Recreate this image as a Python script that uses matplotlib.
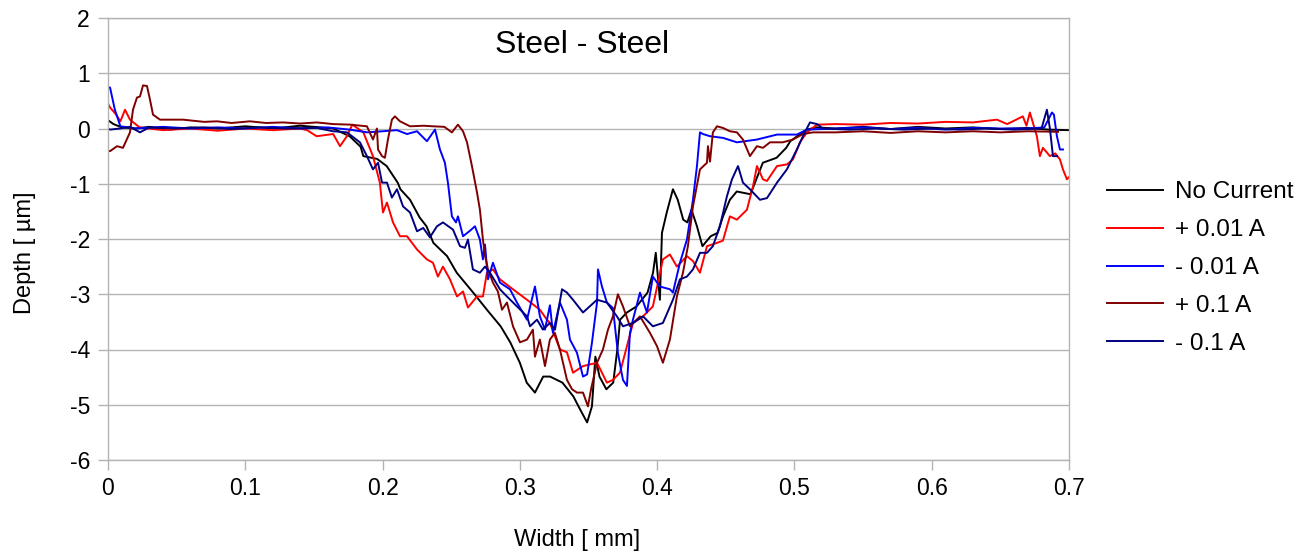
import matplotlib
matplotlib.use("Agg")
import matplotlib.pyplot as plt

plt.rcParams['font.family'] = ['Liberation Sans', 'DejaVu Sans']
plt.rcParams['axes.unicode_minus'] = False

# ---- data: (width [mm], depth [um]) ----
no_current = [
    (0.000, 0.15), (0.004, 0.08), (0.010, 0.02), (0.020, 0.00), (0.030, 0.03), (0.045, -0.02),
    (0.060, 0.02), (0.080, 0.00), (0.100, 0.04), (0.120, 0.00), (0.140, 0.05), (0.155, 0.02),
    (0.164, 0.00), (0.176, -0.14), (0.184, -0.33), (0.186, -0.50), (0.196, -0.55), (0.203, -0.68),
    (0.211, -0.98), (0.213, -1.10), (0.220, -1.29), (0.227, -1.61), (0.232, -1.77), (0.237, -2.07),
    (0.247, -2.31), (0.254, -2.61), (0.266, -2.97), (0.276, -3.28), (0.286, -3.58), (0.293, -3.87),
    (0.300, -4.24), (0.305, -4.60), (0.311, -4.78), (0.317, -4.49), (0.322, -4.49), (0.331, -4.60),
    (0.339, -4.85), (0.344, -5.09), (0.349, -5.32), (0.3525, -5.03), (0.355, -4.13), (0.358, -4.49),
    (0.363, -4.72), (0.368, -4.60), (0.371, -4.00), (0.373, -3.46), (0.378, -3.33), (0.385, -3.22),
    (0.393, -2.97), (0.397, -2.61), (0.399, -2.25), (0.402, -3.10), (0.4035, -1.89), (0.407, -1.52),
    (0.4115, -1.10), (0.415, -1.29), (0.419, -1.65), (0.422, -1.70), (0.425, -1.47), (0.429, -1.77),
    (0.433, -2.13), (0.439, -1.95), (0.444, -1.89), (0.448, -1.59), (0.453, -1.29), (0.458, -1.14),
    (0.468, -1.19), (0.473, -0.87), (0.477, -0.62), (0.487, -0.53), (0.494, -0.35), (0.497, -0.23),
    (0.502, -0.14), (0.509, -0.02), (0.516, 0.02), (0.530, 0.00), (0.550, 0.03), (0.570, -0.01),
    (0.590, 0.03), (0.610, 0.00), (0.630, 0.02), (0.650, -0.01), (0.670, 0.01), (0.685, -0.02),
    (0.700, -0.03),
]

plus_001 = [
    (0.000, 0.45), (0.0015, 0.38), (0.006, 0.25), (0.009, 0.13), (0.0124, 0.34), (0.016, 0.16),
    (0.023, 0.02), (0.040, -0.03), (0.060, 0.00), (0.080, -0.04), (0.100, 0.00), (0.120, -0.03),
    (0.140, 0.00), (0.145, -0.03), (0.152, -0.14), (0.164, -0.10), (0.169, -0.32), (0.174, -0.14),
    (0.178, 0.07), (0.186, -0.07), (0.193, -0.50), (0.198, -0.98), (0.2003, -1.52), (0.2032, -1.34),
    (0.2076, -1.70), (0.2127, -1.95), (0.2178, -1.95), (0.2251, -2.19), (0.2323, -2.37),
    (0.2367, -2.43), (0.2403, -2.68), (0.2440, -2.50), (0.2491, -2.73), (0.2542, -3.04),
    (0.2586, -2.95), (0.2622, -3.24), (0.2688, -3.04), (0.2731, -3.04), (0.2760, -2.61),
    (0.2804, -2.55), (0.2855, -2.73), (0.2950, -2.91), (0.3052, -3.10), (0.3146, -3.28),
    (0.3197, -3.46), (0.3219, -3.52), (0.3292, -4.00), (0.3343, -4.05), (0.3387, -4.42),
    (0.3460, -4.30), (0.3562, -4.24), (0.3634, -4.60), (0.3678, -4.55), (0.3729, -4.42),
    (0.3780, -3.94), (0.3824, -3.52), (0.3897, -3.40), (0.3969, -3.22), (0.4042, -2.37),
    (0.4093, -2.28), (0.4144, -2.50), (0.4217, -2.31), (0.4261, -2.40), (0.4312, -2.61),
    (0.4363, -2.13), (0.4436, -2.07), (0.4479, -2.03), (0.4530, -1.59), (0.4581, -1.65),
    (0.4654, -1.47), (0.4698, -1.05), (0.4727, -0.68), (0.4771, -0.92), (0.4800, -0.95),
    (0.4873, -0.68), (0.4945, -0.65), (0.4989, -0.56), (0.5040, -0.25), (0.5091, -0.07),
    (0.5164, 0.07), (0.530, 0.08), (0.550, 0.07), (0.570, 0.10), (0.590, 0.09), (0.610, 0.12),
    (0.630, 0.11), (0.6475, 0.16), (0.655, 0.08), (0.6664, 0.22), (0.669, 0.05), (0.6715, 0.29),
    (0.6766, -0.14), (0.6788, -0.50), (0.6810, -0.35), (0.6861, -0.50), (0.690, -0.45),
    (0.6934, -0.56), (0.6956, -0.74), (0.6985, -0.92), (0.700, -0.88),
]

minus_001 = [
    (0.000, 0.75), (0.0015, 0.74), (0.005, 0.34), (0.009, 0.04), (0.020, 0.00), (0.040, 0.03),
    (0.060, 0.00), (0.080, 0.02), (0.100, 0.00), (0.120, 0.03), (0.140, 0.00), (0.160, 0.02),
    (0.176, -0.02), (0.189, -0.07), (0.200, -0.05), (0.2105, -0.03), (0.2178, -0.10),
    (0.2251, -0.05), (0.2323, -0.23), (0.2382, -0.02), (0.2418, -0.38), (0.2454, -0.62),
    (0.2476, -0.98), (0.2505, -1.59), (0.2535, -1.70), (0.2549, -1.59), (0.2586, -1.95),
    (0.2637, -1.85), (0.2673, -1.77), (0.2709, -2.01), (0.2731, -2.37), (0.2746, -2.10),
    (0.2768, -2.73), (0.2804, -2.43), (0.2855, -2.79), (0.2928, -2.91), (0.2979, -3.15),
    (0.3052, -3.46), (0.3110, -2.86), (0.3146, -3.40), (0.3183, -3.64), (0.3219, -3.20),
    (0.3241, -3.70), (0.3292, -3.15), (0.3343, -3.46), (0.3365, -3.82), (0.3416, -4.06),
    (0.3460, -4.49), (0.3490, -4.45), (0.3525, -3.88), (0.3562, -3.15), (0.3569, -2.55),
    (0.3598, -2.86), (0.3634, -3.15), (0.3678, -3.25), (0.3714, -4.06), (0.3751, -4.55),
    (0.3780, -4.66), (0.3802, -3.70), (0.3824, -3.46), (0.3875, -2.97), (0.3926, -3.33),
    (0.3969, -2.68), (0.4020, -2.86), (0.4093, -2.91), (0.4115, -2.97), (0.4166, -2.43),
    (0.4217, -2.01), (0.4261, -1.29), (0.4290, -0.68), (0.4312, -0.07), (0.4334, -0.10),
    (0.4385, -0.14), (0.4480, -0.17), (0.4581, -0.25), (0.4727, -0.20), (0.4873, -0.11),
    (0.5018, -0.11), (0.5091, -0.02), (0.530, 0.00), (0.550, 0.02), (0.570, -0.01), (0.590, 0.01),
    (0.610, -0.02), (0.630, 0.01), (0.650, 0.00), (0.670, 0.00), (0.682, 0.02), (0.6876, 0.29),
    (0.689, 0.25), (0.6912, -0.14), (0.6934, -0.38), (0.6956, -0.38),
]

plus_01 = [
    (0.000, -0.40), (0.0015, -0.41), (0.0066, -0.32), (0.0109, -0.35), (0.016, -0.07),
    (0.0182, 0.34), (0.0211, 0.56), (0.0233, 0.58), (0.0255, 0.78), (0.0284, 0.77), (0.0306, 0.52),
    (0.0328, 0.25), (0.0379, 0.16), (0.0546, 0.16), (0.070, 0.12), (0.0794, 0.13), (0.090, 0.10),
    (0.1034, 0.13), (0.115, 0.10), (0.1275, 0.11), (0.140, 0.09), (0.1522, 0.11), (0.1639, 0.08),
    (0.1763, 0.07), (0.1886, 0.04), (0.1930, -0.20), (0.1959, 0.00), (0.1967, -0.38),
    (0.1996, -0.50), (0.2017, -0.53), (0.2039, -0.20), (0.2068, 0.16), (0.2090, 0.22),
    (0.2127, 0.13), (0.220, 0.04), (0.230, 0.05), (0.2367, 0.04), (0.245, 0.03), (0.2505, -0.07),
    (0.2549, 0.07), (0.2586, -0.05), (0.2615, -0.25), (0.2651, -0.68), (0.2688, -1.16),
    (0.2709, -1.47), (0.2731, -2.01), (0.2746, -2.30), (0.2768, -2.55), (0.2804, -2.79),
    (0.2840, -2.95), (0.2870, -3.28), (0.2906, -3.15), (0.2950, -3.58), (0.3001, -3.87),
    (0.3052, -3.82), (0.3095, -3.64), (0.3110, -4.13), (0.3146, -3.82), (0.3183, -4.30),
    (0.3219, -3.82), (0.3255, -3.70), (0.3292, -4.00), (0.3343, -4.55), (0.3380, -4.72),
    (0.3416, -4.78), (0.3460, -4.78), (0.3496, -5.03), (0.3520, -4.70), (0.3562, -4.24),
    (0.3605, -4.00), (0.3642, -3.64), (0.3678, -3.40), (0.3714, -3.00), (0.3751, -3.22),
    (0.3802, -3.58), (0.3875, -3.40), (0.3948, -3.70), (0.3999, -3.94), (0.4042, -4.24),
    (0.4093, -3.82), (0.4144, -3.04), (0.4188, -2.61), (0.4224, -2.13), (0.4261, -1.41),
    (0.4312, -0.74), (0.4363, -0.62), (0.4370, -0.32), (0.4385, -0.60), (0.4406, -0.07),
    (0.4436, 0.04), (0.4480, 0.01), (0.4530, -0.05), (0.4581, -0.07), (0.4625, -0.20),
    (0.4676, -0.50), (0.4727, -0.32), (0.4771, -0.35), (0.4822, -0.25), (0.4915, -0.25),
    (0.4989, -0.20), (0.5062, -0.10), (0.5135, -0.07), (0.530, -0.07), (0.550, -0.05),
    (0.570, -0.08), (0.590, -0.05), (0.610, -0.07), (0.630, -0.05), (0.650, -0.07), (0.670, -0.05),
    (0.692, -0.06),
]

minus_01 = [
    (0.000, 0.00), (0.0015, -0.02), (0.0087, 0.00), (0.016, 0.03), (0.0233, -0.07), (0.030, 0.02),
    (0.050, 0.00), (0.070, 0.02), (0.090, -0.01), (0.110, 0.02), (0.130, 0.00), (0.1522, 0.01),
    (0.1639, -0.05), (0.1741, -0.07), (0.1835, -0.25), (0.1886, -0.50), (0.1930, -0.74),
    (0.1967, -0.62), (0.1996, -0.98), (0.2032, -0.98), (0.2068, -1.25), (0.2105, -1.10),
    (0.2149, -1.41), (0.2200, -1.52), (0.2251, -1.86), (0.2296, -1.80), (0.2345, -1.97),
    (0.2396, -1.77), (0.2440, -1.70), (0.2513, -1.83), (0.2564, -2.13), (0.2600, -2.16),
    (0.2622, -2.01), (0.2658, -2.55), (0.2709, -2.61), (0.2746, -2.50), (0.2782, -2.61),
    (0.2855, -2.91), (0.2906, -3.04), (0.2979, -3.22), (0.3052, -3.40), (0.3074, -3.58),
    (0.3125, -3.46), (0.3168, -3.64), (0.3219, -3.52), (0.3256, -3.64), (0.3307, -2.91),
    (0.3343, -2.97), (0.3387, -3.10), (0.3460, -3.33), (0.3562, -3.10), (0.3634, -3.15),
    (0.3707, -3.40), (0.3751, -3.58), (0.3824, -3.52), (0.3897, -3.40), (0.3969, -3.58),
    (0.4042, -3.52), (0.4115, -3.10), (0.4166, -2.73), (0.4217, -2.68), (0.4261, -2.55),
    (0.4312, -2.25), (0.4363, -2.25), (0.4406, -2.13), (0.4457, -1.77), (0.4508, -1.23),
    (0.4545, -0.92), (0.4567, -0.80), (0.4589, -0.68), (0.4625, -0.98), (0.4676, -1.10),
    (0.4749, -1.29), (0.4800, -1.26), (0.4873, -0.98), (0.4945, -0.74), (0.5018, -0.38),
    (0.5062, -0.14), (0.5113, 0.11), (0.5164, 0.08), (0.5208, 0.00), (0.540, -0.02), (0.560, 0.00),
    (0.580, -0.02), (0.600, 0.00), (0.620, -0.02), (0.640, 0.00), (0.660, -0.02), (0.680, 0.00),
    (0.6839, 0.34), (0.6861, 0.00), (0.6883, -0.50), (0.6912, -0.50),
]

series = [
    ("No Current", no_current, "#000000"),
    ("+ 0.01 A", plus_001, "#ff0000"),
    ("- 0.01 A", minus_001, "#0000ff"),
    ("+ 0.1 A", plus_01, "#800000"),
    ("- 0.1 A", minus_01, "#000080"),
]

x_ticks = [0, 0.1, 0.2, 0.3, 0.4, 0.5, 0.6, 0.7]
x_tick_labels = ["0", "0.1", "0.2", "0.3", "0.4", "0.5", "0.6", "0.7"]
y_ticks = [2, 1, 0, -1, -2, -3, -4, -5, -6]

fig = plt.figure(figsize=(13.10, 5.53), dpi=100)
ax = fig.add_axes([108/1310, 1 - 460/553, (1069-108)/1310, (460-18)/553])

for name, pts, col in series:
    xs = [p[0] for p in pts]
    ys = [p[1] for p in pts]
    ax.plot(xs, ys, color=col, lw=1.4, label=name)

ax.set_xlim(0, 0.7)
ax.set_ylim(-6, 2)
ax.set_xticks(x_ticks)
ax.set_xticklabels(x_tick_labels)
ax.set_yticks(y_ticks)
ax.grid(axis='y', color='#b3b3b3', lw=1.0)
ax.set_axisbelow(True)
for s in ax.spines.values():
    s.set_color('#b3b3b3')
    s.set_linewidth(1.0)
ax.tick_params(axis='both', colors='#b3b3b3', labelcolor='black', labelsize=16.5,
               length=7, width=1.0)
ax.tick_params(axis='x', pad=5)
ax.tick_params(axis='y', pad=6)

ax.set_xlabel("Width [ mm]", fontsize=17, labelpad=21)
ax.set_ylabel("Depth [ µm]", fontsize=17, labelpad=24)
ax.xaxis.label.set_x(0.488)
ax.yaxis.label.set_y(0.47)
ax.text(0.493, 0.939, "Steel - Steel", transform=ax.transAxes, ha='center', va='center',
        fontsize=23)

fig.legend(loc='center left', bbox_to_anchor=(1107/1310, 1 - 268/553), frameon=False,
           fontsize=17.5, handlelength=2.3, handletextpad=0.5, labelspacing=0.65,
           borderaxespad=0, borderpad=0)

fig.savefig("out.png", dpi=100)
